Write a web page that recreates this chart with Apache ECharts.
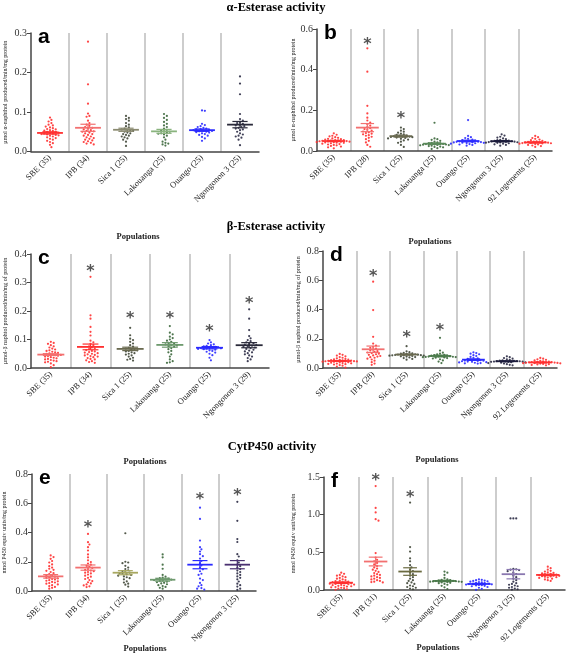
<!DOCTYPE html>
<html><head><meta charset="utf-8">
<script src="https://cdn.jsdelivr.net/npm/echarts@6/dist/echarts.min.js"></script>
<style>html,body{margin:0;padding:0;background:#fff}#c{width:567px;height:655px}</style>
</head><body><div id="c"></div><script>
// ---------- categories ----------
const catsA = ['SBE (35)','IPB (34)','Sica 1 (25)','Lakouanga (25)','Ouango (25)','Ngongonon 3 (25)'];
const catsB = ['SBE (35)','IPB (28)','Sica 1 (25)','Lakouanga (25)','Ouango (25)','Ngongonon 3 (25)','92 Logements (25)'];
const catsC = ['SBE (35)','IPB (34)','Sica 1 (25)','Lakouanga (25)','Ouango (25)','Ngongonon 3 (29)'];
const catsD = ['SBE (35)','IPB (28)','Sica 1 (25)','Lakouanga (25)','Ouango (25)','Ngongonon 3 (25)','92 Logements (25)'];
const catsE = ['SBE (35)','IPB (34)','Sica 1 (25)','Lakouanga (25)','Ouango (25)','Ngongonon 3 (25)'];
const catsF = ['SBE (35)','IPB (31)','Sica 1 (25)','Lakouanga (25)','Ouango (25)','Ngongonon 3 (25)','92 Logements (25)'];

// ---------- panel a : alpha-esterase ----------
const a_SBE = [0.086,0.080,0.076,0.072,0.068,0.066,0.063,0.061,0.059,0.057,0.056,0.054,0.053,0.052,0.050,0.049,0.048,0.047,0.046,0.045,0.044,0.043,0.042,0.041,0.040,0.038,0.036,0.034,0.032,0.030,0.027,0.024,0.021,0.017,0.011];
const a_IPB = [0.278,0.170,0.121,0.096,0.090,0.088,0.078,0.072,0.068,0.065,0.062,0.060,0.058,0.056,0.054,0.052,0.051,0.050,0.048,0.046,0.044,0.042,0.040,0.038,0.036,0.034,0.032,0.030,0.028,0.026,0.024,0.022,0.020,0.018];
const a_Sica = [0.090,0.085,0.082,0.078,0.072,0.068,0.064,0.061,0.058,0.056,0.055,0.054,0.052,0.050,0.048,0.046,0.044,0.042,0.040,0.038,0.036,0.033,0.030,0.025,0.014];
const a_Lak = [0.095,0.090,0.085,0.080,0.075,0.070,0.066,0.062,0.058,0.055,0.053,0.051,0.050,0.048,0.046,0.045,0.043,0.040,0.036,0.030,0.025,0.022,0.020,0.018,0.015];
const a_Oua = [0.104,0.103,0.070,0.067,0.064,0.062,0.060,0.058,0.057,0.056,0.055,0.054,0.053,0.052,0.051,0.050,0.049,0.048,0.046,0.044,0.042,0.040,0.037,0.033,0.027];
const a_Ngo = [0.190,0.172,0.145,0.095,0.082,0.078,0.075,0.072,0.070,0.068,0.066,0.064,0.062,0.060,0.058,0.056,0.054,0.050,0.046,0.043,0.040,0.038,0.035,0.030,0.016];
const a_mean = [0.047,0.060,0.055,0.051,0.054,0.068];
const a_sem  = [0.003,0.009,0.004,0.005,0.003,0.008];
const a_stars = [null,null,null,null,null,null];
const a_ticks = [0.0,0.1,0.2,0.3];

// ---------- panel b : alpha-esterase ----------
const b_SBE = [0.087,0.080,0.075,0.072,0.068,0.065,0.062,0.060,0.058,0.056,0.054,0.053,0.052,0.051,0.050,0.049,0.048,0.047,0.046,0.045,0.044,0.043,0.042,0.041,0.040,0.038,0.036,0.034,0.032,0.030,0.028,0.025,0.022,0.018,0.013];
const b_IPB = [0.505,0.390,0.222,0.185,0.164,0.150,0.140,0.132,0.125,0.118,0.112,0.108,0.104,0.100,0.096,0.092,0.088,0.085,0.082,0.078,0.075,0.070,0.065,0.058,0.050,0.042,0.030,0.021];
const b_Sica = [0.115,0.108,0.100,0.095,0.090,0.085,0.082,0.079,0.076,0.074,0.072,0.071,0.070,0.069,0.068,0.066,0.064,0.062,0.060,0.056,0.052,0.046,0.040,0.030,0.020];
const b_Lak = [0.139,0.062,0.058,0.055,0.050,0.046,0.043,0.040,0.038,0.036,0.035,0.034,0.033,0.032,0.031,0.030,0.029,0.028,0.026,0.024,0.022,0.020,0.018,0.014,0.010];
const b_Oua = [0.152,0.074,0.068,0.064,0.060,0.056,0.054,0.052,0.050,0.048,0.047,0.046,0.045,0.044,0.043,0.042,0.041,0.040,0.039,0.038,0.036,0.034,0.032,0.030,0.026];
const b_Ngo = [0.082,0.076,0.070,0.066,0.062,0.058,0.055,0.053,0.051,0.050,0.049,0.048,0.047,0.046,0.045,0.044,0.043,0.042,0.041,0.040,0.038,0.036,0.033,0.030,0.026];
const b_92 = [0.074,0.068,0.064,0.060,0.056,0.053,0.050,0.048,0.046,0.045,0.044,0.043,0.042,0.041,0.040,0.039,0.038,0.037,0.036,0.034,0.032,0.030,0.027,0.024,0.020];
const b_mean = [0.049,0.115,0.073,0.036,0.049,0.048,0.042];
const b_sem  = [0.003,0.020,0.005,0.004,0.004,0.003,0.003];
const b_stars = [null,0.54,0.177,null,null,null,null];
const b_ticks = [0.0,0.2,0.4,0.6];

// ---------- panel c : beta-esterase ----------
const c_SBE = [0.092,0.088,0.085,0.080,0.076,0.072,0.068,0.065,0.062,0.060,0.057,0.055,0.053,0.051,0.050,0.048,0.047,0.046,0.045,0.043,0.042,0.040,0.038,0.036,0.034,0.032,0.030,0.028,0.026,0.024,0.022,0.020,0.016,0.010,0.003];
const c_IPB = [0.320,0.185,0.173,0.144,0.127,0.114,0.096,0.090,0.085,0.080,0.076,0.072,0.069,0.066,0.063,0.060,0.058,0.056,0.054,0.052,0.050,0.048,0.046,0.044,0.042,0.040,0.038,0.035,0.032,0.030,0.027,0.024,0.021,0.018];
const c_Sica = [0.141,0.115,0.103,0.098,0.092,0.086,0.080,0.075,0.071,0.068,0.066,0.064,0.062,0.060,0.058,0.055,0.052,0.050,0.047,0.044,0.040,0.036,0.032,0.029,0.026];
const c_Lak = [0.147,0.124,0.118,0.110,0.105,0.100,0.096,0.092,0.088,0.085,0.083,0.081,0.079,0.077,0.074,0.070,0.066,0.060,0.055,0.048,0.040,0.030,0.024,0.020,0.018];
const c_Oua = [0.098,0.090,0.086,0.083,0.080,0.078,0.076,0.074,0.073,0.072,0.071,0.070,0.069,0.068,0.067,0.066,0.064,0.062,0.060,0.057,0.054,0.050,0.045,0.036,0.027];
const c_Ngo = [0.206,0.173,0.133,0.112,0.104,0.098,0.094,0.090,0.087,0.084,0.082,0.080,0.078,0.076,0.074,0.072,0.070,0.067,0.064,0.061,0.058,0.055,0.052,0.048,0.044,0.040,0.035,0.030,0.024];
const c_mean = [0.047,0.074,0.067,0.081,0.071,0.080];
const c_sem  = [0.003,0.010,0.006,0.008,0.004,0.009];
const c_stars = [null,0.353,0.185,0.185,0.141,0.238];
const c_ticks = [0.0,0.1,0.2,0.3,0.4];

// ---------- panel d : beta-esterase ----------
const d_SBE = [0.096,0.090,0.085,0.080,0.075,0.070,0.066,0.062,0.060,0.058,0.056,0.054,0.052,0.050,0.049,0.048,0.047,0.046,0.045,0.044,0.043,0.042,0.040,0.038,0.036,0.034,0.032,0.030,0.028,0.026,0.024,0.020,0.016,0.010,0.003];
const d_IPB = [0.590,0.396,0.213,0.167,0.153,0.145,0.138,0.132,0.126,0.120,0.115,0.110,0.106,0.102,0.098,0.094,0.090,0.086,0.082,0.078,0.074,0.070,0.064,0.058,0.050,0.040,0.030,0.022];
const d_Sica = [0.149,0.114,0.108,0.104,0.100,0.098,0.096,0.094,0.092,0.091,0.090,0.089,0.088,0.087,0.086,0.085,0.084,0.082,0.080,0.078,0.075,0.072,0.068,0.062,0.057];
const d_Lak = [0.206,0.119,0.105,0.098,0.094,0.090,0.088,0.086,0.084,0.082,0.080,0.079,0.078,0.077,0.076,0.075,0.074,0.072,0.070,0.068,0.065,0.060,0.052,0.044,0.034];
const d_Oua = [0.107,0.102,0.098,0.094,0.088,0.082,0.076,0.070,0.066,0.062,0.058,0.055,0.053,0.051,0.050,0.048,0.046,0.044,0.042,0.040,0.038,0.036,0.034,0.032,0.030];
const d_Ngo = [0.080,0.074,0.068,0.064,0.060,0.056,0.053,0.051,0.049,0.048,0.047,0.046,0.045,0.044,0.043,0.042,0.041,0.040,0.038,0.036,0.034,0.030,0.026,0.022,0.018];
const d_92 = [0.069,0.064,0.060,0.056,0.052,0.049,0.046,0.044,0.042,0.041,0.040,0.039,0.038,0.037,0.036,0.035,0.034,0.033,0.032,0.030,0.028,0.026,0.024,0.021,0.018];
const d_mean = [0.048,0.128,0.092,0.082,0.057,0.046,0.038];
const d_sem  = [0.003,0.022,0.004,0.006,0.005,0.003,0.003];
const d_stars = [null,0.652,0.233,0.279,null,null,null];
const d_ticks = [0.0,0.2,0.4,0.6,0.8];

// ---------- panel e : CytP450 ----------
const e_SBE = [0.243,0.232,0.220,0.205,0.195,0.182,0.170,0.160,0.152,0.145,0.138,0.130,0.122,0.115,0.108,0.102,0.098,0.094,0.090,0.086,0.082,0.078,0.074,0.070,0.066,0.062,0.058,0.054,0.050,0.045,0.040,0.034,0.028,0.022,0.016];
const e_IPB = [0.390,0.334,0.318,0.300,0.277,0.250,0.230,0.210,0.198,0.188,0.180,0.172,0.165,0.158,0.150,0.145,0.140,0.135,0.130,0.125,0.120,0.112,0.105,0.098,0.090,0.082,0.075,0.068,0.060,0.052,0.045,0.038,0.032,0.027];
const e_Sica = [0.395,0.200,0.195,0.190,0.172,0.160,0.150,0.142,0.136,0.130,0.126,0.122,0.118,0.114,0.110,0.105,0.100,0.094,0.088,0.080,0.066,0.058,0.050,0.043,0.030];
const e_Lak = [0.250,0.230,0.180,0.152,0.110,0.098,0.092,0.088,0.085,0.082,0.080,0.078,0.075,0.072,0.068,0.064,0.060,0.056,0.052,0.046,0.040,0.034,0.028,0.022,0.016];
const e_Oua = [0.570,0.493,0.345,0.300,0.285,0.270,0.252,0.238,0.222,0.205,0.190,0.175,0.160,0.148,0.135,0.118,0.110,0.085,0.075,0.055,0.040,0.032,0.020,0.016,0.010];
const e_Ngo = [0.610,0.480,0.355,0.335,0.252,0.236,0.210,0.195,0.180,0.170,0.160,0.150,0.140,0.130,0.120,0.110,0.100,0.090,0.080,0.065,0.050,0.040,0.030,0.016,0.008];
const e_mean = [0.100,0.160,0.125,0.077,0.180,0.180];
const e_sem  = [0.012,0.018,0.014,0.010,0.028,0.028];
const e_stars = [null,0.46,null,null,0.65,0.675];
const e_ticks = [0.0,0.2,0.4,0.6,0.8];

// ---------- panel f : CytP450 ----------
const f_SBE = [0.230,0.215,0.200,0.190,0.180,0.170,0.160,0.150,0.140,0.132,0.125,0.118,0.112,0.106,0.100,0.096,0.092,0.088,0.084,0.080,0.076,0.072,0.068,0.064,0.060,0.055,0.050,0.045,0.040,0.035,0.030,0.024,0.018,0.010,0.003];
const f_IPB = [1.380,1.090,1.030,0.940,0.920,0.490,0.430,0.400,0.380,0.360,0.340,0.320,0.300,0.285,0.270,0.255,0.240,0.225,0.210,0.200,0.190,0.180,0.170,0.160,0.150,0.140,0.130,0.120,0.110,0.105,0.100];
const f_Sica = [1.160,0.570,0.510,0.420,0.380,0.330,0.300,0.270,0.250,0.230,0.210,0.190,0.170,0.150,0.130,0.120,0.100,0.090,0.080,0.060,0.050,0.040,0.030,0.020,0.010];
const f_Lak = [0.245,0.230,0.200,0.160,0.140,0.135,0.130,0.126,0.122,0.120,0.118,0.116,0.114,0.112,0.110,0.108,0.105,0.100,0.095,0.090,0.080,0.070,0.055,0.035,0.013];
const f_Oua = [0.140,0.135,0.130,0.125,0.120,0.115,0.110,0.105,0.100,0.095,0.090,0.086,0.082,0.078,0.075,0.072,0.068,0.064,0.060,0.055,0.050,0.040,0.030,0.015,0.002];
const f_Ngo = [0.950,0.950,0.950,0.280,0.275,0.270,0.265,0.250,0.230,0.210,0.190,0.170,0.150,0.130,0.110,0.090,0.080,0.070,0.060,0.050,0.040,0.030,0.020,0.010,0.005];
const f_92 = [0.310,0.290,0.270,0.255,0.245,0.235,0.228,0.222,0.216,0.210,0.205,0.200,0.196,0.192,0.188,0.184,0.180,0.175,0.170,0.165,0.160,0.150,0.140,0.130,0.120];
const f_mean = [0.097,0.378,0.245,0.120,0.080,0.210,0.200];
const f_sem  = [0.010,0.058,0.050,0.010,0.008,0.062,0.010];
const f_stars = [null,1.5,1.28,null,null,null,null];
const f_ticks = [0.0,0.5,1.0,1.5];

// ---------- styling ----------
const RED='#ff3030', SALMON='#f27070', DARK='#3f4636', GREEN='#3a663a', BLUE='#2a2aff', NAVY='#2a2a44';
const panels = [
  {letter:'a', cats:catsA, vals:[a_SBE,a_IPB,a_Sica,a_Lak,a_Oua,a_Ngo], mean:a_mean, sem:a_sem, stars:a_stars, ticks:a_ticks,
   grid:{left:31,top:33,width:228,height:118.5}, yName:'µmol α-naphthol produced/min/mg protein', nameGap:23,
   dot:[RED,RED,DARK,GREEN,BLUE,NAVY], line:[RED,SALMON,'#8a8a70','#8ab47e',BLUE,'#2a2a3a']},
  {letter:'b', cats:catsB, vals:[b_SBE,b_IPB,b_Sica,b_Lak,b_Oua,b_Ngo,b_92], mean:b_mean, sem:b_sem, stars:b_stars, ticks:b_ticks,
   grid:{left:317,top:29,width:235,height:122}, yName:'µmol α-naphthol produced/min/mg protein', nameGap:15,
   dot:[RED,RED,DARK,GREEN,BLUE,NAVY,RED], line:[RED,SALMON,'#6a6a50','#5a8a5a',BLUE,'#1c1c3c',RED]},
  {letter:'c', cats:catsC, vals:[c_SBE,c_IPB,c_Sica,c_Lak,c_Oua,c_Ngo], mean:c_mean, sem:c_sem, stars:c_stars, ticks:c_ticks,
   grid:{left:31,top:254,width:238,height:114}, yName:'µmol-β naphtol produced/min/mg of protein', nameGap:23,
   dot:[RED,RED,DARK,GREEN,BLUE,NAVY], line:[SALMON,RED,'#6a6a50','#6e9a6e',BLUE,'#2a2a3a']},
  {letter:'d', cats:catsD, vals:[d_SBE,d_IPB,d_Sica,d_Lak,d_Oua,d_Ngo,d_92], mean:d_mean, sem:d_sem, stars:d_stars, ticks:d_ticks,
   grid:{left:323,top:251,width:234,height:117}, yName:'µmol-β naphtol produced/min/mg of protein', nameGap:22,
   dot:[RED,RED,DARK,GREEN,BLUE,NAVY,RED], line:[RED,SALMON,'#6a6a50','#4a7a4a',BLUE,'#1c1c3c',RED]},
  {letter:'e', cats:catsE, vals:[e_SBE,e_IPB,e_Sica,e_Lak,e_Oua,e_Ngo], mean:e_mean, sem:e_sem, stars:e_stars, ticks:e_ticks,
   grid:{left:32,top:474,width:224,height:117}, yName:'nmol P450 equiv units/mg protein', nameGap:25,
   dot:[RED,RED,DARK,GREEN,BLUE,NAVY], line:[SALMON,SALMON,'#a8a860','#6e9a6e',BLUE,'#4a3070']},
  {letter:'f', cats:catsF, vals:[f_SBE,f_IPB,f_Sica,f_Lak,f_Oua,f_Ngo,f_92], mean:f_mean, sem:f_sem, stars:f_stars, ticks:f_ticks,
   grid:{left:324,top:477,width:241,height:113}, yName:'nmol P450 equiv unit/mg protein', nameGap:28,
   dot:[RED,RED,DARK,GREEN,BLUE,NAVY,RED], line:[RED,SALMON,'#6a6a40','#4a7a4a',BLUE,'#8a78b0',RED]}
];

// deterministic beeswarm offsets (pixel layout only)
function swarm(vals, ppv, d){
  const idx = vals.map((v,i)=>i).sort((a,b)=>vals[b]-vals[a]);
  const placed=[], offs=new Array(vals.length).fill(0);
  for(const i of idx){
    const y = vals[i]*ppv;
    let chosen = 0;
    for(let k=0;k<60;k++){
      const cand = k===0?0:((k%2)?1:-1)*Math.ceil(k/2)*d*0.55;
      let ok=true;
      for(const p of placed){ const dx=cand-p.x, dy=y-p.y; if(dx*dx+dy*dy<d*d){ok=false;break;} }
      if(ok){chosen=cand;break;}
    }
    placed.push({x:chosen,y}); offs[i]=chosen;
  }
  return offs;
}

const SERIF='"Liberation Serif","Times New Roman",serif';
const grids=[], xAxes=[], yAxes=[], series=[], graphics=[];
panels.forEach((P,pi)=>{
  const max = P.ticks[P.ticks.length-1];
  const interval = P.ticks[1]-P.ticks[0];
  grids.push(Object.assign({containLabel:false}, P.grid));
  xAxes.push({type:'category', gridIndex:pi, data:P.cats, boundaryGap:true,
    axisLine:{lineStyle:{color:'#444',width:1.5}},
    axisTick:{alignWithLabel:true,length:3,lineStyle:{color:'#444'}},
    axisLabel:{rotate:45, interval:0, fontFamily:SERIF, fontSize:8.5, color:'#222', margin:5},
    splitLine:{show:true, showMinLine:false, showMaxLine:false, lineStyle:{color:'#bdbdbd',width:1.5}}});
  yAxes.push({type:'value', gridIndex:pi, min:0, max:max, interval:interval,
    name:P.yName, nameLocation:'middle', nameRotate:90, nameGap:P.nameGap,
    nameTextStyle:{fontFamily:SERIF, fontSize:6, color:'#222'},
    axisLine:{show:true,lineStyle:{color:'#444',width:1.5}},
    axisTick:{show:true,length:4,lineStyle:{color:'#444'}},
    axisLabel:{fontFamily:SERIF, fontSize:10, color:'#333', margin:4, formatter:v=>v.toFixed(1)},
    splitLine:{show:false}});
  const ppv = P.grid.height/max;
  P.vals.forEach((vals,ci)=>{
    const offs = swarm(vals, ppv, 2.6);
    series.push({type:'scatter', xAxisIndex:pi, yAxisIndex:pi, symbol:'circle', symbolSize:2.2,
      itemStyle:{color:P.dot[ci], opacity:0.9}, silent:true, z:2,
      data: vals.map((v,i)=>({value:[ci,v], symbolOffset:[offs[i],0]}))});
  });
  const lineCols = P.line;
  series.push({type:'custom', xAxisIndex:pi, yAxisIndex:pi, z:3, silent:true,
    data: P.mean.map((m,ci)=>[ci,m,P.sem[ci]]),
    renderItem:(params,api)=>{
      const c=api.value(0), m=api.value(1), s=api.value(2);
      const p=api.coord([c,m]), hi=api.coord([c,m+s]), lo=api.coord([c,m-s]);
      const w=api.size([1,0])[0];
      const col=lineCols[params.dataIndex];
      const mw=w*0.34, cw=w*0.2;
      return {type:'group', children:[
        {type:'line', shape:{x1:p[0]-mw,y1:p[1],x2:p[0]+mw,y2:p[1]}, style:{stroke:col,lineWidth:1.8}},
        {type:'line', shape:{x1:p[0],y1:hi[1],x2:p[0],y2:lo[1]}, style:{stroke:col,lineWidth:1.2}},
        {type:'line', shape:{x1:p[0]-cw,y1:hi[1],x2:p[0]+cw,y2:hi[1]}, style:{stroke:col,lineWidth:1.2}},
        {type:'line', shape:{x1:p[0]-cw,y1:lo[1],x2:p[0]+cw,y2:lo[1]}, style:{stroke:col,lineWidth:1.2}}
      ]};
    }});
  const starData = P.stars.map((v,ci)=>v==null?null:[ci,v]).filter(d=>d);
  if(starData.length){
    series.push({type:'custom', xAxisIndex:pi, yAxisIndex:pi, z:4, silent:true, clip:false, data:starData,
      renderItem:(params,api)=>{
        const p=api.coord([api.value(0),api.value(1)]);
        return {type:'text', x:p[0], y:p[1]+4, style:{text:'*', fill:'#555', font:'bold 16px "DejaVu Sans",sans-serif', align:'center', verticalAlign:'middle'}};
      }});
  }
  graphics.push({type:'text', left:P.grid.left+7, top:P.grid.top-6, z:10,
    style:{text:P.letter, fill:'#000', font:'bold 21px "Liberation Sans",Arial,sans-serif'}});
});

const titleFont='bold 12.5px '+SERIF;
const popFont='bold 8.5px '+SERIF;
[['α-Esterase activity',276,8],['β-Esterase activity',276,227],['CytP450 activity',272,447]].forEach(t=>{
  graphics.push({type:'text', x:t[1], y:t[2], style:{text:t[0], fill:'#000', font:titleFont, align:'center', verticalAlign:'middle'}});
});
[[138,237],[430,242],[145,462],[437,460],[145,649],[438,648]].forEach(p=>{
  graphics.push({type:'text', x:p[0], y:p[1], style:{text:'Populations', fill:'#222', font:popFont, align:'center', verticalAlign:'middle'}});
});

const chart = echarts.init(document.getElementById('c'), null, {renderer:'canvas'});
chart.setOption({animation:false, backgroundColor:'#fff', grid:grids, xAxis:xAxes, yAxis:yAxes, series:series, graphic:graphics});
</script></body></html>
